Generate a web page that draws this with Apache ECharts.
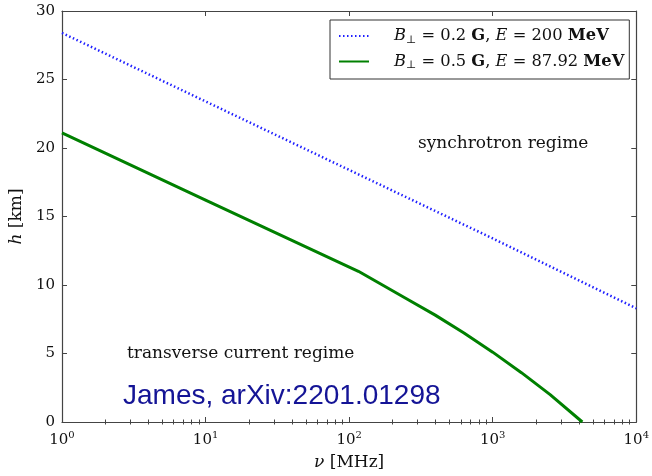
<!DOCTYPE html>
<html><head><meta charset="utf-8">
<script src="https://cdn.jsdelivr.net/npm/echarts@6/dist/echarts.min.js"></script>
<style>html,body{margin:0;padding:0;background:#fff}#c{width:652px;height:476px}</style>
</head><body><div id="c"></div>
<script>
// Blue dotted: B=0.2 G, E=200 MeV
var blueNu = [1, 10, 100, 1000, 10000];
var blueH  = [28.4, 23.4, 18.4, 13.4, 8.3];
// Green solid: B=0.5 G, E=87.92 MeV
var greenNu = [1, 10, 116, 158, 251, 398, 631, 1000, 1585, 2512, 4210];
var greenH  = [21.1, 16.2, 11.0, 10.2, 9.0, 7.8, 6.5, 5.1, 3.6, 2.0, 0];
var xMajor = [1, 10, 100, 1000, 10000];
var xMinor = [2,3,4,5,6,7,8,9,20,30,40,50,60,70,80,90,200,300,400,500,600,700,800,900,2000,3000,4000,5000,6000,7000,8000,9000];
var yTicks = [0, 5, 10, 15, 20, 25, 30];

var serif = 'DejaVu Serif';
function pairs(xs, ys){ return xs.map(function(x,i){ return [x, ys[i]]; }); }
var axisColor = '#444';
var chart = echarts.init(document.getElementById('c'));
var baseX = {type:'log', logBase:10, min:1, max:10000, gridIndex:0, splitLine:{show:false}};
var lf = 16.3;
chart.setOption({
  animation:false,
  backgroundColor:'#fff',
  grid:{left:57, right:12, top:11, bottom:48},
  legend:{
    left:330, top:20, orient:'vertical', padding:[8,5,8,8], itemGap:8,
    itemWidth:30, itemHeight:18, borderColor:'#333', borderWidth:1, borderRadius:0,
    backgroundColor:'#fff',
    itemStyle:{opacity:0},
    data:['s1','s2'],
    formatter:function(n){
      if(n==='s1') return '{i|B}{sub|⊥}{n| = 0.2 }{b|G}{n|, }{i|E}{n| = 200 }{b|MeV}';
      return '{i|B}{sub|⊥}{n| = 0.5 }{b|G}{n|, }{i|E}{n| = 87.92 }{b|MeV}';
    },
    textStyle:{fontFamily:serif, fontSize:lf, color:'#111', padding:[0,0,0,20],
      rich:{
        i:{fontFamily:serif, fontStyle:'italic', fontSize:lf, color:'#111'},
        n:{fontFamily:serif, fontSize:lf, color:'#111'},
        b:{fontFamily:serif, fontWeight:'bold', fontSize:lf, color:'#111'},
        sub:{fontFamily:serif, fontSize:11, color:'#111', padding:[8,0,0,0]}
      }}
  },
  xAxis:[
    Object.assign({}, baseX, {position:'bottom',
      axisLine:{show:true, onZero:false, lineStyle:{color:axisColor, width:1.2}},
      axisTick:{show:true, inside:true, length:5, lineStyle:{color:axisColor}},
      axisLabel:{margin:8, color:'#111', fontFamily:serif, fontSize:15,
        formatter:function(v){ var n=Math.round(Math.log10(v)); return '{b|10}{s|'+n+'}'; },
        rich:{b:{fontFamily:serif, fontSize:15, color:'#111'}, s:{fontFamily:serif, fontSize:10, color:'#111', padding:[0,0,11,0]}}},
      name:'{i|ν} [MHz]', nameLocation:'middle', nameGap:32,
      nameTextStyle:{fontFamily:serif, fontSize:17, color:'#111',
        rich:{i:{fontFamily:serif, fontStyle:'italic', fontSize:17, color:'#111'}}}
    }),
    Object.assign({}, baseX, {position:'bottom',
      axisLine:{show:false}, axisLabel:{show:false},
      axisTick:{show:true, inside:true, length:2.5, customValues:xMinor, lineStyle:{color:axisColor}}
    }),
    Object.assign({}, baseX, {position:'top',
      axisLine:{show:true, onZero:false, lineStyle:{color:axisColor, width:1.2}}, axisLabel:{show:false},
      axisTick:{show:true, inside:true, length:5, customValues:xMajor, lineStyle:{color:axisColor}}
    }),
    Object.assign({}, baseX, {position:'top',
      axisLine:{show:false}, axisLabel:{show:false},
      axisTick:{show:true, inside:true, length:2.5, customValues:xMinor, lineStyle:{color:axisColor}}
    })
  ],
  yAxis:[
    {type:'value', min:0, max:30, interval:5, position:'left', splitLine:{show:false},
      axisLine:{show:true, onZero:false, lineStyle:{color:axisColor, width:1.2}},
      axisTick:{show:true, inside:true, length:5, lineStyle:{color:axisColor}},
      axisLabel:{margin:7, color:'#111', fontFamily:serif, fontSize:15},
      name:'{i|h} [km]', nameLocation:'middle', nameGap:31, nameRotate:90,
      nameTextStyle:{fontFamily:serif, fontSize:17, color:'#111',
        rich:{i:{fontFamily:serif, fontStyle:'italic', fontSize:17, color:'#111'}}}
    },
    {type:'value', min:0, max:30, interval:5, position:'right', splitLine:{show:false},
      axisLine:{show:true, onZero:false, lineStyle:{color:axisColor, width:1.2}},
      axisTick:{show:true, inside:true, length:5, customValues:yTicks, lineStyle:{color:axisColor}},
      axisLabel:{show:false}}
  ],
  series:[
    {name:'s1', type:'line', xAxisIndex:0, yAxisIndex:0, symbol:'none', data:pairs(blueNu, blueH),
      lineStyle:{color:'#2020ff', width:2.5, type:[1.5,2.5]}, itemStyle:{color:'#2020ff'}},
    {name:'s2', type:'line', xAxisIndex:0, yAxisIndex:0, symbol:'none', data:pairs(greenNu, greenH),
      lineStyle:{color:'#008000', width:3}, itemStyle:{color:'#008000'}}
  ],
  graphic:[
    {type:'text', left:418, top:135, style:{text:'synchrotron regime', fontFamily:serif, fontSize:17, fill:'#111'}},
    {type:'text', left:127, top:345, style:{text:'transverse current regime', fontFamily:serif, fontSize:17, fill:'#111'}},
    {type:'text', left:123, top:382, style:{text:'James, arXiv:2201.01298', fontFamily:'Liberation Sans', fontSize:28, fill:'#141496'}}
  ]
});
</script></body></html>
